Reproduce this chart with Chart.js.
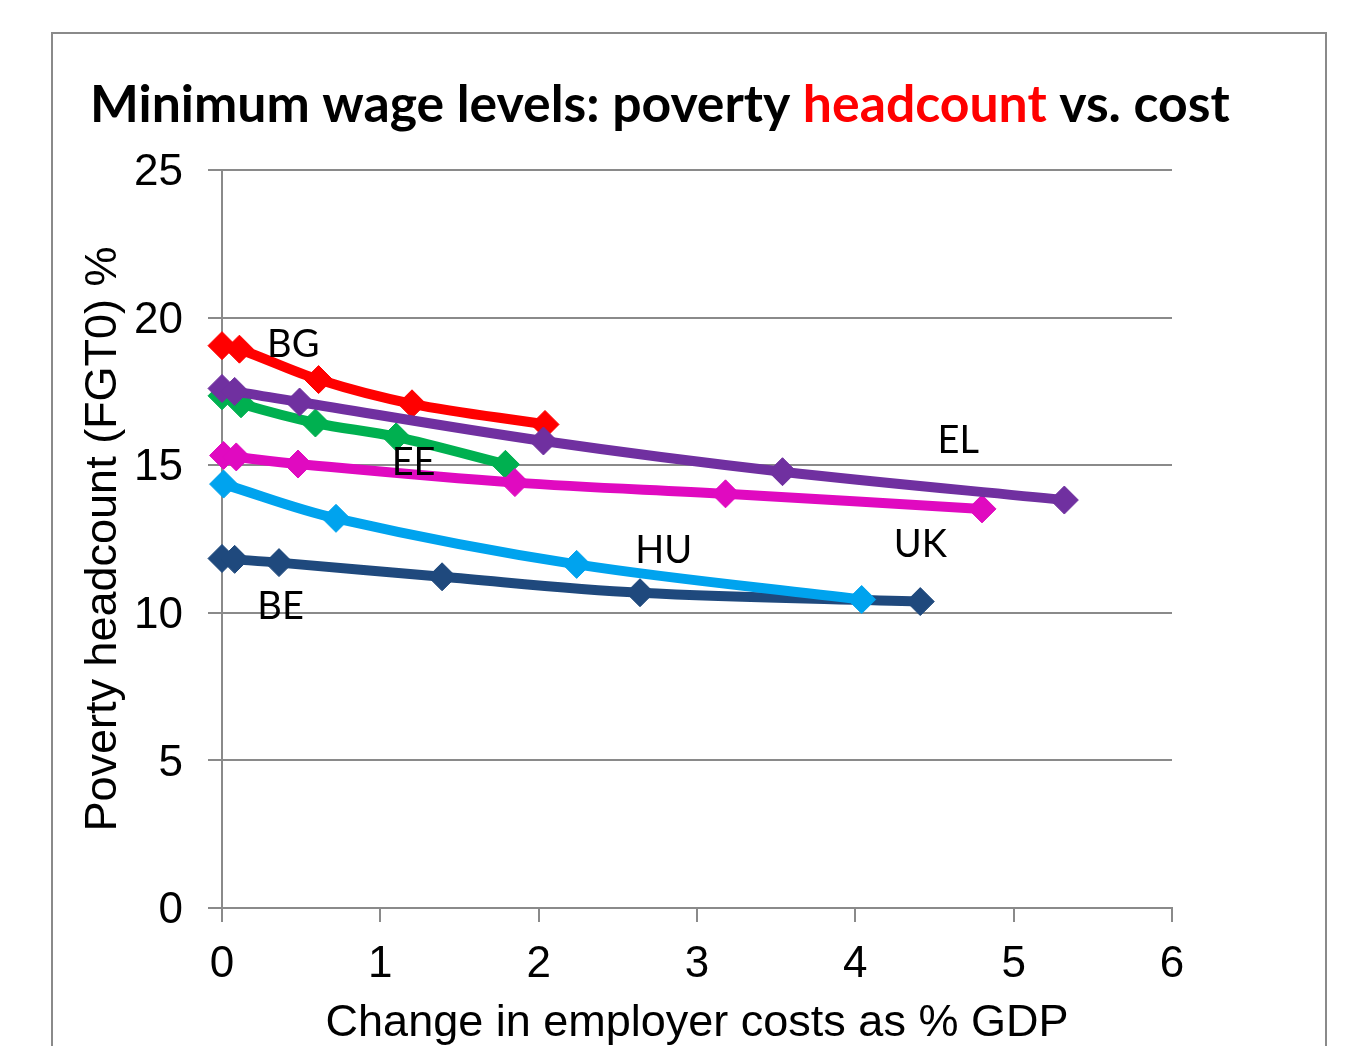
<!DOCTYPE html>
<html>
<head>
<meta charset="utf-8">
<script src="https://cdn.jsdelivr.net/npm/chart.js@4.4.1/dist/chart.umd.min.js"></script>
<style>
  html, body { margin: 0; padding: 0; background: #fff; }
  #wrap { width: 1366px; height: 1046px; }
</style>
</head>
<body>
<div id="wrap"><canvas id="chart" width="1366" height="1046"></canvas></div>
<script>
// employer cost change (% GDP) and poverty headcount (FGT0 %) per country
const bgCost = [0, 0.11, 0.61, 1.20, 2.04];
const bgPoverty = [19.05, 18.93, 17.90, 17.08, 16.38];

const elCost = [0, 0.08, 0.49, 2.03, 3.54, 5.32];
const elPoverty = [17.60, 17.50, 17.14, 15.82, 14.78, 13.82];

const eeCost = [0, 0.12, 0.59, 1.10, 1.79];
const eePoverty = [17.35, 17.08, 16.43, 15.96, 15.03];

const ukCost = [0.01, 0.09, 0.48, 1.85, 3.18, 4.80];
const ukPoverty = [15.33, 15.28, 15.04, 14.41, 14.03, 13.52];

const huCost = [0.01, 0.72, 2.24, 4.04];
const huPoverty = [14.36, 13.20, 11.64, 10.45];

const beCost = [0, 0.08, 0.36, 1.39, 2.64, 4.41];
const bePoverty = [11.84, 11.81, 11.70, 11.22, 10.68, 10.38];

const countries = ['EL', 'HU', 'BG', 'UK', 'EE', 'BE'];
const colors = ['#7030A0', '#00A3EE', '#FF0000', '#E00AC0', '#00B050', '#1F497D'];
const costs = [elCost, huCost, bgCost, ukCost, eeCost, beCost];
const poverty = [elPoverty, huPoverty, bgPoverty, ukPoverty, eePoverty, bePoverty];

// where each country name sits, in axis units
const nameX = [4.65, 2.79, 0.45, 4.41, 1.21, 0.37];
const nameY = [15.82, 12.09, 19.07, 12.30, 15.07, 10.20];

const titleParts = [
  ['Minimum wage levels: poverty ', '#000'],
  ['headcount', '#FF0000'],
  [' vs. cost', '#000']
];

const datasets = countries.map((c, i) => ({
  label: c,
  data: costs[i].map((x, j) => ({ x: x, y: poverty[i][j] })),
  borderColor: colors[i],
  backgroundColor: colors[i],
  borderWidth: 10,
  tension: 0.35,
  clip: false,
  pointStyle: 'rectRot',
  pointRadius: 14,
  pointBorderWidth: 1,
  pointBorderColor: colors[i],
  pointBackgroundColor: colors[i]
}));

const frameAndTitle = {
  id: 'frameAndTitle',
  beforeDraw(chart) {
    const ctx = chart.ctx;
    ctx.save();
    ctx.fillStyle = '#fff';
    ctx.fillRect(0, 0, chart.width, chart.height);
    ctx.strokeStyle = '#8a8a8a';
    ctx.lineWidth = 2;
    ctx.strokeRect(52, 33, 1274, 1100);
    ctx.restore();
  },
  afterDraw(chart) {
    const ctx = chart.ctx;
    ctx.save();
    // title with the red word, stretched across the top
    let size = 46;
    ctx.font = `bold ${size}px Lato`;
    const full = titleParts.map(p => p[0]).join('');
    size = size * 1140 / ctx.measureText(full).width;
    ctx.font = `bold ${size}px Lato`;
    ctx.textBaseline = 'alphabetic';
    let x = 90;
    titleParts.forEach(([t, col]) => {
      ctx.fillStyle = col;
      ctx.fillText(t, x, 122);
      x += ctx.measureText(t).width;
    });

    // country names
    const xs = chart.scales.x, ys = chart.scales.y;
    ctx.font = '38px Lato';
    ctx.fillStyle = '#000';
    ctx.textAlign = 'center';
    ctx.textBaseline = 'middle';
    countries.forEach((c, i) => {
      ctx.fillText(c, xs.getPixelForValue(nameX[i]), ys.getPixelForValue(nameY[i]));
    });
    ctx.restore();
  }
};

const axisFont = { family: 'Liberation Sans, Arial, sans-serif', size: 44 };
const axisTitleFont = { family: 'Liberation Sans, Arial, sans-serif', size: 45 };

new Chart(document.getElementById('chart').getContext('2d'), {
  type: 'line',
  data: { datasets: datasets },
  plugins: [frameAndTitle],
  options: {
    responsive: false,
    animation: false,
    layout: { padding: { left: 0, top: 170, right: 194, bottom: 0 } },
    plugins: { legend: { display: false }, tooltip: { enabled: false }, title: { display: false } },
    scales: {
      x: {
        type: 'linear',
        min: 0,
        max: 6,
        ticks: { stepSize: 1, color: '#000', font: axisFont, padding: 16, maxRotation: 0 },
        grid: { drawOnChartArea: false, drawTicks: true, tickLength: 14, color: '#8a8a8a', lineWidth: 2 },
        border: { color: '#8a8a8a', width: 2 },
        title: { display: true, text: 'Change in employer costs as % GDP', color: '#000', font: { ...axisTitleFont, lineHeight: 1.0 }, padding: { top: 0, bottom: 0 } },
        afterFit(scale) { scale.height = 138; }
      },
      y: {
        min: 0,
        max: 25,
        ticks: { stepSize: 5, color: '#000', font: axisFont, padding: 25, labelOffset: 3 },
        grid: { tickLength: 14, color: '#8a8a8a', lineWidth: 2 },
        border: { color: '#8a8a8a', width: 2 },
        title: { display: true, text: 'Poverty headcount (FGT0) %', color: '#000', font: axisTitleFont, padding: { top: 77, bottom: 0 } },
        afterFit(scale) { scale.width = 222; }
      }
    }
  }
});
</script>
</body>
</html>
